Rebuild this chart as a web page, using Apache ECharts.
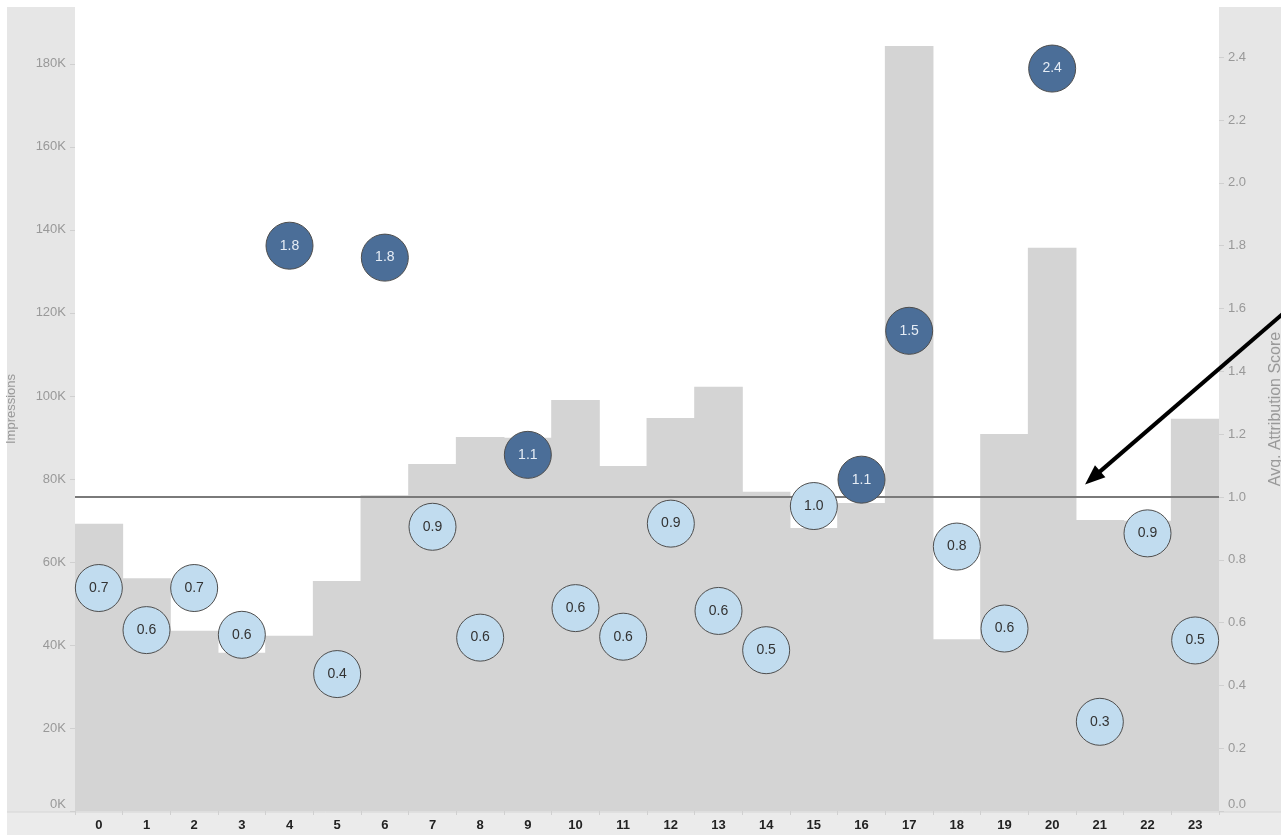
<!DOCTYPE html>
<html>
<head>
<meta charset="utf-8">
<style>
  html, body { margin: 0; padding: 0; background: #fff; }
  #main { width: 1281px; height: 835px; }
</style>
<script src="https://cdn.jsdelivr.net/npm/echarts@6/dist/echarts.min.js"></script>
</head>
<body>
<div id="main"></div>
<script>
// hour of day
var hours = ['0', '1', '2', '3', '4', '5', '6', '7', '8', '9', '10', '11',
  '12', '13', '14', '15', '16', '17', '18', '19', '20', '21', '22', '23'];

// impressions per hour (bars, left axis)
var impressions = [69200, 56100, 43400, 38100, 42200, 55400, 76100, 83600,
  90100, 89900, 99000, 83100, 94700, 102200, 76900, 68200, 74200, 184300,
  41400, 90800, 135700, 70100, 69900, 94500];

// avg attribution score per hour (circles, right axis)
var scores = [0.71, 0.576, 0.71, 0.561, 1.80, 0.436, 1.762, 0.905, 0.552,
  1.134, 0.646, 0.555, 0.915, 0.637, 0.512, 0.971, 1.055, 1.529, 0.842,
  0.581, 2.364, 0.284, 0.884, 0.543];

var referenceScore = 1.0;

var HIGH = '#4b6e98', LOW = '#c1dcef';
var AXIS_TXT = '#999';
var NARROW = 'Liberation Sans Narrow, Arial Narrow, Arial, sans-serif';

var chart = echarts.init(document.getElementById('main'));

var scoreData = scores.map(function(s) {
  var high = s > referenceScore;
  return {
    value: s,
    itemStyle: { color: high ? HIGH : LOW },
    label: { color: high ? '#e6edf5' : '#333' }
  };
});

var option = {
  backgroundColor: '#fff',
  animation: false,
  graphic: [
    { type: 'rect', z: -100, silent: true,
      shape: { x: 7, y: 7, width: 1274, height: 828 },
      style: { fill: '#e6e6e6' } },
    { type: 'rect', z: -99, silent: true,
      shape: { x: 7, y: 812, width: 1274, height: 23 },
      style: { fill: '#ebebeb' } },
    { type: 'line', z: -98, silent: true,
      shape: { x1: 7, y1: 812, x2: 1281, y2: 812 },
      style: { stroke: '#d6d6d6', lineWidth: 1 } }
  ],
  grid: {
    left: 75, right: 62, top: 7, bottom: 24,
    outerBoundsMode: 'none', containLabel: false,
    show: true, backgroundColor: '#fff', borderWidth: 0
  },
  xAxis: {
    type: 'category',
    data: hours,
    axisLine: { show: false },
    splitLine: { show: false },
    axisTick: { show: true, length: 4, lineStyle: { color: '#d0d0d0' } },
    axisLabel: { color: '#222', fontWeight: 'bold', fontSize: 13,
      fontFamily: NARROW, margin: 8 }
  },
  yAxis: [
    {
      type: 'value', min: 0, max: 193700, interval: 20000,
      name: 'Impressions', nameLocation: 'middle', nameGap: 57,
      nameTextStyle: { color: AXIS_TXT, fontSize: 13, fontFamily: NARROW },
      axisLine: { show: false },
      axisTick: { show: true, length: 5, lineStyle: { color: '#d0d0d0' } },
      splitLine: { show: false },
      axisLabel: {
        color: AXIS_TXT, fontSize: 13, fontFamily: 'Arial, sans-serif', margin: 9,
        showMaxLabel: false, verticalAlignMinLabel: 'bottom',
        formatter: function(v) { return (v / 1000) + 'K'; }
      }
    },
    {
      type: 'value', min: 0, max: 2.56, interval: 0.2,
      name: 'Avg. Attribution Score', nameLocation: 'middle', nameGap: 49,
      nameTextStyle: { color: AXIS_TXT, fontSize: 16, fontFamily: 'Arial, sans-serif' },
      axisLine: { show: false },
      axisTick: { show: true, length: 5, lineStyle: { color: '#d0d0d0' } },
      splitLine: { show: false },
      axisLabel: {
        color: AXIS_TXT, fontSize: 13, fontFamily: 'Arial, sans-serif', margin: 9,
        showMaxLabel: false, verticalAlignMinLabel: 'bottom',
        formatter: function(v) { return v.toFixed(1); }
      }
    }
  ],
  series: [
    {
      name: 'Impressions',
      type: 'bar',
      data: impressions,
      barWidth: 48.6,
      itemStyle: { color: '#d4d4d4' },
      z: 1
    },
    {
      name: 'Avg. Attribution Score',
      type: 'scatter',
      yAxisIndex: 1,
      data: scoreData,
      symbolSize: 47,
      itemStyle: { borderColor: '#4d4d4d', borderWidth: 1, opacity: 1 },
      label: {
        show: true, position: 'inside', fontSize: 14, fontFamily: 'Arial, sans-serif',
        formatter: function(p) { return p.value.toFixed(1); }
      },
      z: 3,
      markLine: {
        silent: true,
        symbol: 'none',
        label: { show: false },
        lineStyle: { color: '#7a7a7a', width: 2, type: 'solid' },
        data: [{ yAxis: referenceScore }],
        z: 2
      }
    }
  ]
};

chart.setOption(option);

// annotation arrow pointing at the 1.0 reference line between hours 20 and 21
var p20 = chart.convertToPixel({ xAxisIndex: 0, yAxisIndex: 1 }, [20, 1.04]);
var p21 = chart.convertToPixel({ xAxisIndex: 0, yAxisIndex: 1 }, [21, 1.04]);
var tip = [p20[0] + (p21[0] - p20[0]) * 0.69, p20[1]];
var dir = [0.757, -0.653];
var tail = [tip[0] + dir[0] * 280, tip[1] + dir[1] * 280];
var headLen = 20, headHalf = 8;
var base = [tip[0] + dir[0] * headLen, tip[1] + dir[1] * headLen];
var perp = [-dir[1], dir[0]];
chart.setOption({
  graphic: option.graphic.concat([
    { type: 'line', z: 50, silent: true,
      shape: { x1: tail[0], y1: tail[1], x2: base[0] - dir[0] * 2, y2: base[1] - dir[1] * 2 },
      style: { stroke: '#000', lineWidth: 4 } },
    { type: 'polygon', z: 50, silent: true,
      shape: { points: [
        tip,
        [base[0] + perp[0] * headHalf, base[1] + perp[1] * headHalf],
        [base[0] - perp[0] * headHalf, base[1] - perp[1] * headHalf]
      ] },
      style: { fill: '#000' } }
  ])
});
</script>
</body>
</html>
